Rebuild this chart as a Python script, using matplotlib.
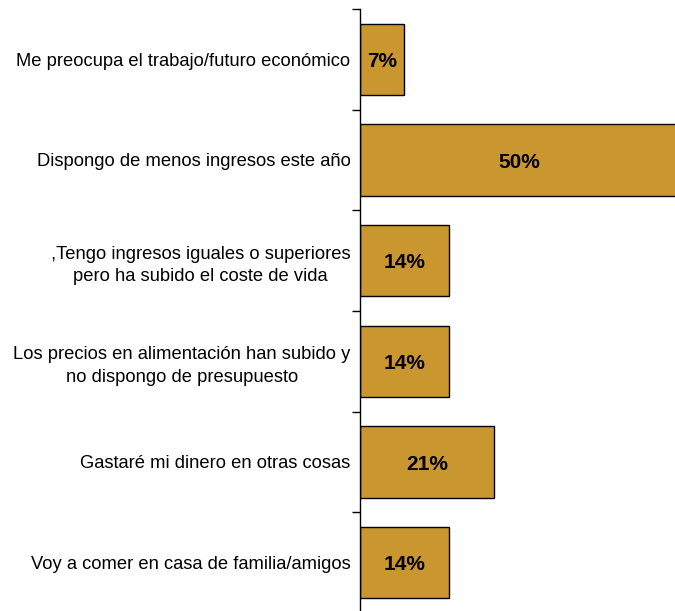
import numpy as np
import matplotlib
matplotlib.use('Agg')
from matplotlib import pyplot as plt

categories = [
    'Me preocupa el trabajo/futuro económico',
    'Dispongo de menos ingresos este año',
    ',Tengo ingresos iguales o superiores\npero ha subido el coste de vida',
    'Los precios en alimentación han subido y\nno dispongo de presupuesto',
    'Gastaré mi dinero en otras cosas',
    'Voy a comer en casa de familia/amigos',
]
values = [7, 50, 14, 14, 21, 14]
value_labels = ['7%', '50%', '14%', '14%', '21%', '14%']

BAR_COLOR = '#C9962F'

plt.rcParams['font.family'] = ['Liberation Sans', 'DejaVu Sans']

W, H = 675, 611
fig = plt.figure(figsize=(W / 100, H / 100), dpi=100)
# axis line sits at x=359.5 px, 6.4 px per percent
left = 359.5 / W
width = 50 * 6.4 / W
top = 9 / H
bottom = -2 / H
ax = fig.add_axes([left, bottom, width, 1 - top - bottom])

y = np.arange(len(categories))
ax.barh(y, values, height=0.71, color=BAR_COLOR, edgecolor='black', linewidth=1.0)

for yi, v, lab in zip(y, values, value_labels):
    ax.text(v / 2, yi + 0.02, lab, ha='center', va='center', fontsize=15, fontweight='bold')

ax.set_xlim(0, 50)
ax.set_ylim(len(categories) - 0.5, -0.5)

ax.set_yticks(y)
ax.set_yticklabels(categories, fontsize=13.25, linespacing=1.4)
for t in ax.get_yticklabels():
    t.set_multialignment('center')
ax.set_yticks(np.arange(-0.5, len(categories) + 0.5, 1), minor=True)
ax.tick_params(axis='y', which='major', length=0, pad=6.5)
ax.tick_params(axis='y', which='minor', length=6, width=1.0, direction='out')

ax.set_xticks([])
for side in ['top', 'right', 'bottom']:
    ax.spines[side].set_visible(False)
ax.spines['left'].set_linewidth(1.0)

fig.savefig('out.png', dpi=100)
